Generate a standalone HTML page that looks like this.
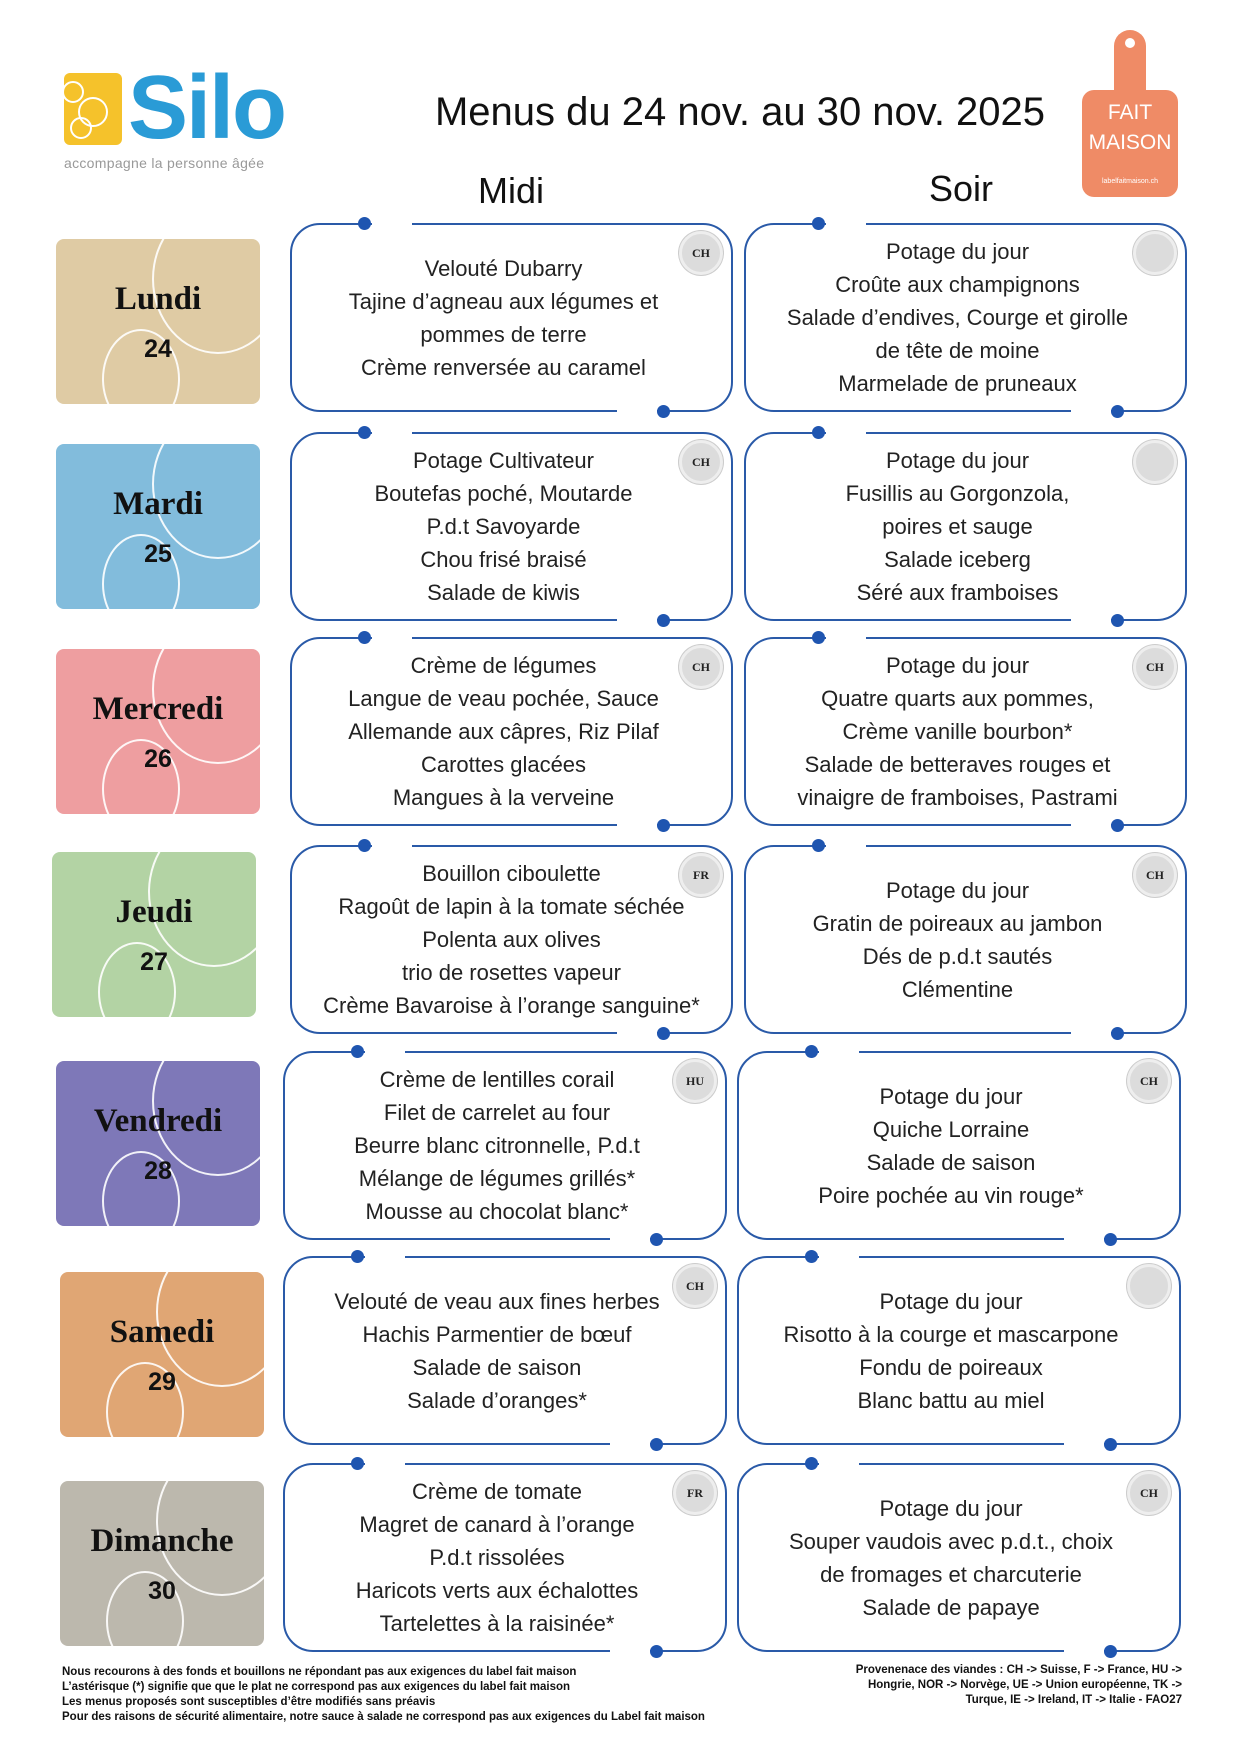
<!DOCTYPE html>
<html><head><meta charset="utf-8"><style>
*{margin:0;padding:0;box-sizing:border-box}
body{width:1241px;height:1755px;background:#fff;position:relative;overflow:hidden;font-family:"Liberation Sans",sans-serif;color:#1a1a1a}
.abs{position:absolute}
.tile{position:absolute;width:204px;height:165px;border-radius:8px;overflow:hidden}
.tile .c1{position:absolute;left:96px;top:-35px;width:132px;height:150px;border:2px solid rgba(255,255,255,.9);border-radius:50%}
.tile .c2{position:absolute;left:46px;top:90px;width:78px;height:100px;border:2px solid rgba(255,255,255,.9);border-radius:50%}
.tile .nm{position:absolute;left:0;right:0;top:42px;text-align:center;font-family:"Liberation Serif",serif;font-weight:bold;font-size:33px;color:#111}
.tile .nb{position:absolute;left:0;right:0;top:96px;text-align:center;font-weight:bold;font-size:25px;color:#111}
.card{position:absolute;height:189px;border:2px solid #2a5aa8;border-radius:30px}
.card .g{position:absolute;background:#fff;height:6px}
.card .d{position:absolute;width:13px;height:13px;border-radius:50%;background:#1f55b0}
.card .t{position:absolute;left:0;right:0;top:0;bottom:0;display:flex;flex-direction:column;justify-content:center;align-items:center;text-align:center;font-size:22px;line-height:33px;color:#222;padding:0 16px 0 0}
.card .b{position:absolute;right:8px;top:6px;width:44px;height:44px;border-radius:50%;background:#dcdcdc;border:3px solid #eee;box-shadow:0 0 0 1px #ccc;font-family:"Liberation Serif",serif;font-weight:bold;font-size:12px;display:flex;align-items:center;justify-content:center;color:#222}
.foot{position:absolute;font-weight:bold;font-size:11.5px;line-height:15px;color:#111}
</style></head><body>

<div class="abs" style="left:64px;top:73px;width:58px;height:72px;background:#f5c22b;border-radius:6px;overflow:hidden">
 <div class="abs" style="left:-2px;top:8px;width:22px;height:22px;border:2px solid #fff;border-radius:50%"></div>
 <div class="abs" style="left:14px;top:24px;width:30px;height:30px;border:2px solid #fff;border-radius:50%"></div>
 <div class="abs" style="left:6px;top:44px;width:22px;height:22px;border:2px solid #fff;border-radius:50%"></div>
</div>
<div class="abs" style="left:128px;top:58px;font-size:90px;font-weight:bold;color:#2a9bd6;letter-spacing:-2px;line-height:100px">Silo</div>
<div class="abs" style="left:64px;top:155px;font-size:14px;color:#999;letter-spacing:.3px">accompagne la personne âgée</div>

<div class="abs" style="left:400px;top:90px;width:680px;text-align:center;font-size:40px;color:#111">Menus du 24 nov. au 30 nov. 2025</div>

<div class="abs" style="left:1082px;top:90px;width:96px;height:107px;background:#ef8b66;border-radius:12px"></div>
<div class="abs" style="left:1114px;top:30px;width:32px;height:80px;background:#ef8b66;border-radius:16px 16px 4px 4px"></div>
<div class="abs" style="left:1125px;top:38px;width:10px;height:10px;background:#fff;border-radius:50%"></div>
<div class="abs" style="left:1082px;top:98px;width:96px;text-align:center;color:#fff;font-size:21px;line-height:30px">FAIT<br>MAISON</div>
<div class="abs" style="left:1082px;top:178px;width:96px;text-align:center;color:#fff;font-size:7px">labelfaitmaison.ch</div>

<div class="abs" style="left:411px;top:170px;width:200px;text-align:center;font-size:36px;color:#111">Midi</div>
<div class="abs" style="left:861px;top:168px;width:200px;text-align:center;font-size:36px;color:#111">Soir</div>

<div class="tile" style="left:56px;top:239px;background:#dfcba4"><div class="c1"></div><div class="c2"></div><div class="nm">Lundi</div><div class="nb">24</div></div>
<div class="tile" style="left:56px;top:444px;background:#82bcdc"><div class="c1"></div><div class="c2"></div><div class="nm">Mardi</div><div class="nb">25</div></div>
<div class="tile" style="left:56px;top:649px;background:#ee9ea0"><div class="c1"></div><div class="c2"></div><div class="nm">Mercredi</div><div class="nb">26</div></div>
<div class="tile" style="left:52px;top:852px;background:#b3d3a4"><div class="c1"></div><div class="c2"></div><div class="nm">Jeudi</div><div class="nb">27</div></div>
<div class="tile" style="left:56px;top:1061px;background:#7e78b8"><div class="c1"></div><div class="c2"></div><div class="nm">Vendredi</div><div class="nb">28</div></div>
<div class="tile" style="left:60px;top:1272px;background:#e0a674"><div class="c1"></div><div class="c2"></div><div class="nm">Samedi</div><div class="nb">29</div></div>
<div class="tile" style="left:60px;top:1481px;background:#bcb8ad"><div class="c1"></div><div class="c2"></div><div class="nm">Dimanche</div><div class="nb">30</div></div>

<div class="card" style="left:290px;top:223px;width:443px"><div class="g" style="left:80px;width:40px;top:-4px"></div><div class="d" style="left:66px;top:-8px"></div><div class="g" style="left:325px;width:40px;bottom:-4px"></div><div class="d" style="left:365px;bottom:-8px"></div><div class="b">CH</div><div class="t">Velouté Dubarry<br>Tajine d’agneau aux légumes et<br>pommes de terre<br>Crème renversée au caramel</div></div>
<div class="card" style="left:744px;top:223px;width:443px"><div class="g" style="left:80px;width:40px;top:-4px"></div><div class="d" style="left:66px;top:-8px"></div><div class="g" style="left:325px;width:40px;bottom:-4px"></div><div class="d" style="left:365px;bottom:-8px"></div><div class="b"></div><div class="t">Potage du jour<br>Croûte aux champignons<br>Salade d’endives, Courge et girolle<br>de tête de moine<br>Marmelade de pruneaux</div></div>

<div class="card" style="left:290px;top:432px;width:443px"><div class="g" style="left:80px;width:40px;top:-4px"></div><div class="d" style="left:66px;top:-8px"></div><div class="g" style="left:325px;width:40px;bottom:-4px"></div><div class="d" style="left:365px;bottom:-8px"></div><div class="b">CH</div><div class="t">Potage Cultivateur<br>Boutefas poché, Moutarde<br>P.d.t Savoyarde<br>Chou frisé braisé<br>Salade de kiwis</div></div>
<div class="card" style="left:744px;top:432px;width:443px"><div class="g" style="left:80px;width:40px;top:-4px"></div><div class="d" style="left:66px;top:-8px"></div><div class="g" style="left:325px;width:40px;bottom:-4px"></div><div class="d" style="left:365px;bottom:-8px"></div><div class="b"></div><div class="t">Potage du jour<br>Fusillis au Gorgonzola,<br>poires et sauge<br>Salade iceberg<br>Séré aux framboises</div></div>

<div class="card" style="left:290px;top:637px;width:443px"><div class="g" style="left:80px;width:40px;top:-4px"></div><div class="d" style="left:66px;top:-8px"></div><div class="g" style="left:325px;width:40px;bottom:-4px"></div><div class="d" style="left:365px;bottom:-8px"></div><div class="b">CH</div><div class="t">Crème de légumes<br>Langue de veau pochée, Sauce<br>Allemande aux câpres, Riz Pilaf<br>Carottes glacées<br>Mangues à la verveine</div></div>
<div class="card" style="left:744px;top:637px;width:443px"><div class="g" style="left:80px;width:40px;top:-4px"></div><div class="d" style="left:66px;top:-8px"></div><div class="g" style="left:325px;width:40px;bottom:-4px"></div><div class="d" style="left:365px;bottom:-8px"></div><div class="b">CH</div><div class="t">Potage du jour<br>Quatre quarts aux pommes,<br>Crème vanille bourbon*<br>Salade de betteraves rouges et<br>vinaigre de framboises, Pastrami</div></div>

<div class="card" style="left:290px;top:845px;width:443px"><div class="g" style="left:80px;width:40px;top:-4px"></div><div class="d" style="left:66px;top:-8px"></div><div class="g" style="left:325px;width:40px;bottom:-4px"></div><div class="d" style="left:365px;bottom:-8px"></div><div class="b">FR</div><div class="t" style="padding:0">Bouillon ciboulette<br>Ragoût de lapin à la tomate séchée<br>Polenta aux olives<br>trio de rosettes vapeur<br>Crème Bavaroise à l’orange sanguine*</div></div>
<div class="card" style="left:744px;top:845px;width:443px"><div class="g" style="left:80px;width:40px;top:-4px"></div><div class="d" style="left:66px;top:-8px"></div><div class="g" style="left:325px;width:40px;bottom:-4px"></div><div class="d" style="left:365px;bottom:-8px"></div><div class="b">CH</div><div class="t">Potage du jour<br>Gratin de poireaux au jambon<br>Dés de p.d.t sautés<br>Clémentine</div></div>

<div class="card" style="left:283px;top:1051px;width:444px"><div class="g" style="left:80px;width:40px;top:-4px"></div><div class="d" style="left:66px;top:-8px"></div><div class="g" style="left:325px;width:40px;bottom:-4px"></div><div class="d" style="left:365px;bottom:-8px"></div><div class="b">HU</div><div class="t">Crème de lentilles corail<br>Filet de carrelet au four<br>Beurre blanc citronnelle, P.d.t<br>Mélange de légumes grillés*<br>Mousse au chocolat blanc*</div></div>
<div class="card" style="left:737px;top:1051px;width:444px"><div class="g" style="left:80px;width:40px;top:-4px"></div><div class="d" style="left:66px;top:-8px"></div><div class="g" style="left:325px;width:40px;bottom:-4px"></div><div class="d" style="left:365px;bottom:-8px"></div><div class="b">CH</div><div class="t">Potage du jour<br>Quiche Lorraine<br>Salade de saison<br>Poire pochée au vin rouge*</div></div>

<div class="card" style="left:283px;top:1256px;width:444px"><div class="g" style="left:80px;width:40px;top:-4px"></div><div class="d" style="left:66px;top:-8px"></div><div class="g" style="left:325px;width:40px;bottom:-4px"></div><div class="d" style="left:365px;bottom:-8px"></div><div class="b">CH</div><div class="t">Velouté de veau aux fines herbes<br>Hachis Parmentier de bœuf<br>Salade de saison<br>Salade d’oranges*</div></div>
<div class="card" style="left:737px;top:1256px;width:444px"><div class="g" style="left:80px;width:40px;top:-4px"></div><div class="d" style="left:66px;top:-8px"></div><div class="g" style="left:325px;width:40px;bottom:-4px"></div><div class="d" style="left:365px;bottom:-8px"></div><div class="b"></div><div class="t">Potage du jour<br>Risotto à la courge et mascarpone<br>Fondu de poireaux<br>Blanc battu au miel</div></div>

<div class="card" style="left:283px;top:1463px;width:444px"><div class="g" style="left:80px;width:40px;top:-4px"></div><div class="d" style="left:66px;top:-8px"></div><div class="g" style="left:325px;width:40px;bottom:-4px"></div><div class="d" style="left:365px;bottom:-8px"></div><div class="b">FR</div><div class="t">Crème de tomate<br>Magret de canard à l’orange<br>P.d.t rissolées<br>Haricots verts aux échalottes<br>Tartelettes à la raisinée*</div></div>
<div class="card" style="left:737px;top:1463px;width:444px"><div class="g" style="left:80px;width:40px;top:-4px"></div><div class="d" style="left:66px;top:-8px"></div><div class="g" style="left:325px;width:40px;bottom:-4px"></div><div class="d" style="left:365px;bottom:-8px"></div><div class="b">CH</div><div class="t">Potage du jour<br>Souper vaudois avec p.d.t., choix<br>de fromages et charcuterie<br>Salade de papaye</div></div>

<div class="foot" style="left:62px;top:1665px">Nous recourons à des fonds et bouillons ne répondant pas aux exigences du label fait maison<br>L’astérisque (*) signifie que que le plat ne correspond pas aux exigences du label fait maison<br>Les menus proposés sont susceptibles d’être modifiés sans préavis<br>Pour des raisons de sécurité alimentaire, notre sauce à salade ne correspond pas aux exigences du Label fait maison</div>
<div class="foot" style="right:59px;top:1663px;text-align:right">Provenenace des viandes : CH -&gt; Suisse, F -&gt; France, HU -&gt;<br>Hongrie, NOR -&gt; Norvège, UE -&gt; Union européenne, TK -&gt;<br>Turque, IE -&gt; Ireland, IT -&gt; Italie - FAO27</div>
</body></html>
